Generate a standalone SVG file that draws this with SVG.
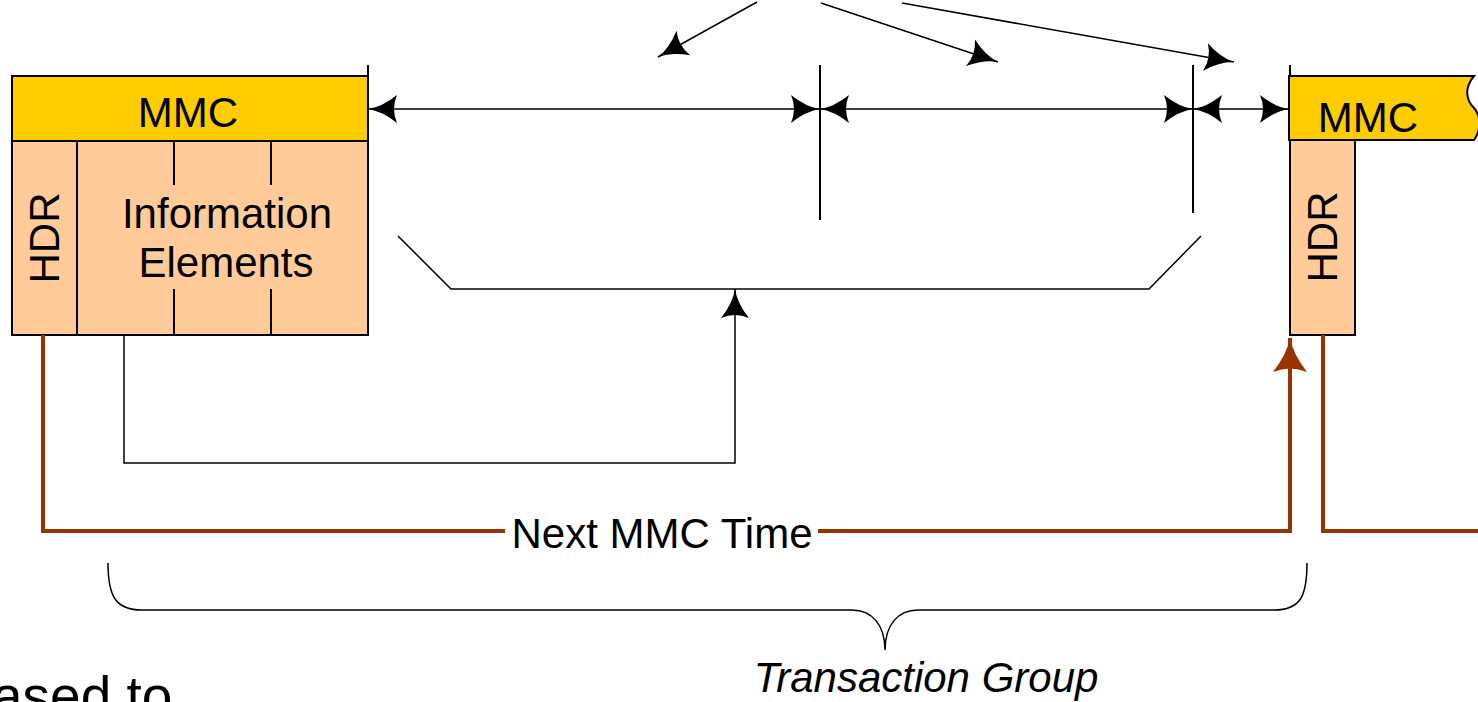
<svg xmlns="http://www.w3.org/2000/svg" width="1478" height="702" viewBox="0 0 1478 702">
<style>
  text { font-family: "Liberation Sans", Arial, sans-serif; font-size: 42px; fill: #000; }
  .mmc { fill: #FFCC00; stroke: #000; stroke-width: 2; }
  .body { fill: #FFCC99; stroke: #000; stroke-width: 2; }
  .ln { fill: none; stroke: #000; stroke-width: 2; }
  .thin { fill: none; stroke: #000; stroke-width: 1.5; }
  .brown { fill: none; stroke: #993300; stroke-width: 4; }
</style>
<defs>
  <marker id="ah" markerUnits="userSpaceOnUse" viewBox="-31 -16 32 32" refX="0" refY="0" markerWidth="32" markerHeight="32" orient="auto-start-reverse">
    <path d="M0,0 Q-14,-2 -29,-14 Q-23,0 -29,14 Q-14,2 0,0 Z" fill="#000"/>
  </marker>
  <marker id="ahb" markerUnits="userSpaceOnUse" viewBox="-36 -19 37 38" refX="0" refY="0" markerWidth="37" markerHeight="38" orient="auto">
    <path d="M0,0 Q-16,-3 -34,-17 Q-27,0 -34,17 Q-16,3 0,0 Z" fill="#993300"/>
  </marker>
</defs>

<g id="left-frame">
  <rect class="mmc" x="12" y="76" width="356" height="65"/>
  <rect class="body" x="12" y="141" width="356" height="194"/>
  <line class="ln" x1="77" y1="141" x2="77" y2="335"/>
  <line class="ln" x1="174" y1="141" x2="174" y2="185"/>
  <line class="ln" x1="271" y1="141" x2="271" y2="185"/>
  <line class="ln" x1="174" y1="289" x2="174" y2="335"/>
  <line class="ln" x1="271" y1="289" x2="271" y2="335"/>
  <text x="188" y="127" text-anchor="middle">MMC</text>
  <text transform="translate(59,238) rotate(-90)" text-anchor="middle">HDR</text>
  <text x="227" y="228" text-anchor="middle">Information</text>
  <text x="226" y="277" text-anchor="middle">Elements</text>
</g>

<g id="right-frame">
  <path class="mmc" d="M1289,76 L1474,76 C1464,88 1466,100 1474,108 C1482,117 1480,132 1474,140 L1289,140 Z"/>
  <rect class="body" x="1290" y="140" width="65" height="195"/>
  <text x="1368" y="132" text-anchor="middle">MMC</text>
  <text transform="translate(1337,237) rotate(-90)" text-anchor="middle">HDR</text>
</g>

<g id="connectors">
  <line class="ln" x1="368" y1="65" x2="368" y2="76"/>
  <line class="ln" x1="1290" y1="65" x2="1290" y2="76"/>
  <line class="ln" x1="820" y1="65" x2="820" y2="220"/>
  <line class="ln" x1="1193" y1="65" x2="1193" y2="213"/>
  <line class="thin" x1="368" y1="109" x2="820" y2="109" marker-start="url(#ah)" marker-end="url(#ah)"/>
  <line class="thin" x1="820" y1="109" x2="1193" y2="109" marker-start="url(#ah)" marker-end="url(#ah)"/>
  <line class="thin" x1="1193" y1="109" x2="1289" y2="109" marker-start="url(#ah)" marker-end="url(#ah)"/>
  <line class="thin" x1="757" y1="2" x2="658" y2="57" marker-end="url(#ah)"/>
  <line class="thin" x1="821" y1="3" x2="998" y2="62" marker-end="url(#ah)"/>
  <line class="thin" x1="902" y1="3" x2="1234" y2="62" marker-end="url(#ah)"/>
  <polyline class="thin" points="398,236 451,289 1149,289 1201,236"/>
  <polyline class="thin" points="124,335 124,463 735,463 735,289" marker-end="url(#ah)"/>
  <polyline class="brown" points="43,335 43,531 505,531"/>
  <polyline class="brown" points="818,531 1290,531 1290,338" marker-end="url(#ahb)"/>
  <polyline class="brown" points="1323,335 1323,531 1478,531"/>
  <path class="thin" d="M108,563 C108,597 116,610 142,610 H852 C872,610 885,625 885,650 C885,625 898,610 918,610 H1274 C1300,610 1307,597 1307,563"/>
</g>

<g id="labels">
  <text x="662" y="548" text-anchor="middle">Next MMC Time</text>
  <text x="926" y="692" text-anchor="middle" font-style="italic">Transaction Group</text>
  <text x="-8" y="715" style="font-size:55px">ased to</text>
</g>
</svg>
